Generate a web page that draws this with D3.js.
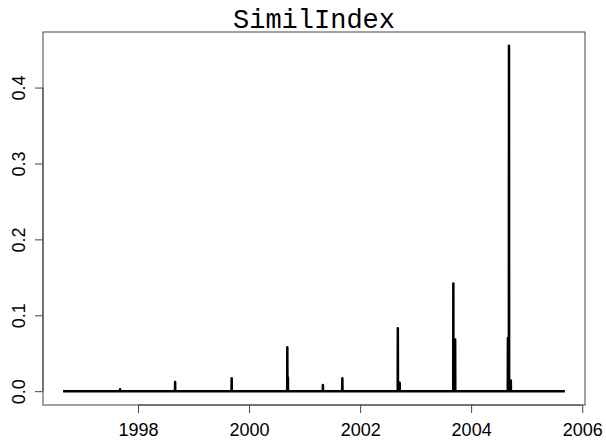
<!DOCTYPE html>
<html>
<head>
<meta charset="utf-8">
<script src="https://cdn.jsdelivr.net/npm/d3@7"></script>
<style>
  body { margin: 0; background: #fff; }
  .tick-label { font-family: "Liberation Sans", Arial, sans-serif; font-size: 18px; fill: #000; }
  .title { font-family: "Liberation Mono", "Courier New", monospace; font-size: 27px; fill: #000; }
</style>
</head>
<body>
<div id="chart"></div>
<script>
// SimilIndex daily series: zero except short spikes, mostly in September
var dates = [
  "1996-08-26",
  "1997-09-04", "1997-09-05", "1997-09-06",
  "1998-09-01", "1998-09-02", "1998-09-03",
  "1999-09-08", "1999-09-09", "1999-09-10",
  "2000-09-08", "2000-09-09", "2000-09-10", "2000-09-12", "2000-09-13", "2000-09-14",
  "2001-04-30", "2001-05-01", "2001-05-02",
  "2001-09-05", "2001-09-06", "2001-09-07",
  "2002-09-05", "2002-09-06", "2002-09-07", "2002-09-17", "2002-09-18", "2002-09-19",
  "2003-09-05", "2003-09-06", "2003-09-07", "2003-09-17", "2003-09-18", "2003-09-19",
  "2004-08-29", "2004-08-30", "2004-08-31", "2004-09-05", "2004-09-06", "2004-09-07",
  "2004-09-17", "2004-09-18", "2004-09-19",
  "2005-09-09"
];
var values = [
  0,
  0, 0.0025, 0,
  0, 0.012, 0,
  0, 0.017, 0,
  0, 0.058, 0, 0, 0.018, 0,
  0, 0.008, 0,
  0, 0.017, 0,
  0, 0.083, 0, 0, 0.011, 0,
  0, 0.142, 0, 0, 0.068, 0,
  0, 0.070, 0, 0, 0.455, 0,
  0, 0.014, 0,
  0
];
var yTicks = [0.0, 0.1, 0.2, 0.3, 0.4];
var xTickYears = [1998, 2000, 2002, 2004, 2006];

var width = 606, height = 441;
var plotLeft = 43, plotRight = 585, plotTop = 32, plotBottom = 405;

var parse = d3.timeParse("%Y-%m-%d");
var data = dates.map(function(d, i) { return { date: parse(d), value: values[i] }; });

// R-style 4% padding on both axes
var xExt = d3.extent(data, function(d) { return d.date; });
var span = xExt[1] - xExt[0];
var x = d3.scaleTime()
  .domain([new Date(+xExt[0] - span * 0.04), new Date(+xExt[1] + span * 0.04)])
  .range([plotLeft, plotRight]);

var yMax = d3.max(values), yMin = d3.min(values);
var yPad = (yMax - yMin) * 0.04;
var y = d3.scaleLinear()
  .domain([yMin - yPad, yMax + yPad])
  .range([plotBottom, plotTop]);

var svg = d3.select("#chart")
  .append("svg")
  .attr("width", width)
  .attr("height", height);

// title
svg.append("text")
  .attr("class", "title")
  .attr("x", (plotLeft + plotRight) / 2)
  .attr("y", 28)
  .attr("text-anchor", "middle")
  .text("SimilIndex");

// data line
var line = d3.line()
  .x(function(d) { return x(d.date); })
  .y(function(d) { return y(d.value); });

svg.append("path")
  .datum(data)
  .attr("d", line)
  .attr("fill", "none")
  .attr("stroke", "#000")
  .attr("stroke-width", 2.5)
  .attr("stroke-linejoin", "round");

// box
svg.append("rect")
  .attr("x", plotLeft)
  .attr("y", plotTop)
  .attr("width", plotRight - plotLeft)
  .attr("height", plotBottom - plotTop)
  .attr("fill", "none")
  .attr("stroke", "#444")
  .attr("stroke-width", 1);

// x axis
var xAxis = d3.axisBottom(x)
  .tickValues(xTickYears.map(function(yr) { return new Date(yr, 0, 1); }))
  .tickFormat(d3.timeFormat("%Y"))
  .tickSize(8)
  .tickPadding(10);

var gx = svg.append("g")
  .attr("transform", "translate(0," + plotBottom + ")")
  .call(xAxis);
gx.attr("font-family", null).attr("font-size", null);
gx.select(".domain").attr("stroke", "#444")
  .attr("d", "M" + x(new Date(xTickYears[0], 0, 1)) + ",0H" + x(new Date(xTickYears[xTickYears.length - 1], 0, 1)));
gx.selectAll(".tick line").attr("stroke", "#444");
gx.selectAll(".tick text").attr("class", "tick-label");

// y axis
var yAxis = d3.axisLeft(y)
  .tickValues(yTicks)
  .tickFormat(d3.format(".1f"))
  .tickSize(8);

var gy = svg.append("g")
  .attr("transform", "translate(" + plotLeft + ",0)")
  .call(yAxis);
gy.attr("font-family", null).attr("font-size", null);
gy.select(".domain").attr("stroke", "#444")
  .attr("d", "M0," + y(yTicks[0]) + "V" + y(yTicks[yTicks.length - 1]));
gy.selectAll(".tick line").attr("stroke", "#444");
gy.selectAll(".tick text")
  .attr("class", "tick-label")
  .attr("x", null)
  .attr("dy", null)
  .attr("text-anchor", "middle")
  .attr("transform", "translate(-18,0) rotate(-90)");
</script>
</body>
</html>
